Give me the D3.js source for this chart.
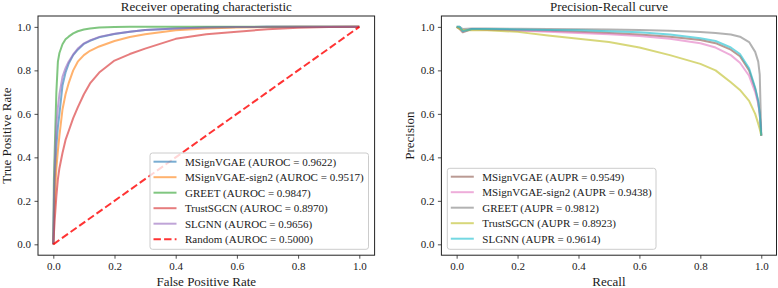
<!DOCTYPE html>
<html><head><meta charset="utf-8">
<script src="https://cdn.jsdelivr.net/npm/d3@7"></script>
<style>
html,body{margin:0;padding:0;background:#fff;}
svg text{font-family:"Liberation Serif","Times New Roman",serif;fill:#1a1a1a;}
</style></head>
<body><svg id="c" width="778" height="288"></svg>
<script>
// ---------- ROC data ----------
const rocFPR = [0, 0.002, 0.005, 0.01, 0.015, 0.02, 0.03, 0.04, 0.05, 0.065, 0.08, 0.1, 0.12, 0.15, 0.2, 0.25, 0.3, 0.4, 0.5, 0.6, 0.7, 0.8, 0.9, 1.0];
const rocMSignVGAE = [0, 0.15, 0.3, 0.45, 0.54, 0.6, 0.73, 0.79, 0.83, 0.87, 0.895, 0.922, 0.936, 0.952, 0.967, 0.978, 0.986, 0.993, 0.997, 0.999, 1, 1, 1, 1];
const rocSign2     = [0, 0.1, 0.22, 0.35, 0.43, 0.5, 0.62, 0.69, 0.74, 0.8, 0.84, 0.87, 0.89, 0.91, 0.935, 0.953, 0.966, 0.985, 0.993, 0.997, 0.999, 1, 1, 1];
const rocGREET     = [0, 0.3, 0.45, 0.7, 0.84, 0.88, 0.92, 0.943, 0.955, 0.97, 0.98, 0.988, 0.993, 0.997, 0.999, 1, 1, 1, 1, 1, 1, 1, 1, 1];
const rocTrustSGCN = [0, 0.05, 0.12, 0.22, 0.3, 0.35, 0.42, 0.48, 0.52, 0.58, 0.63, 0.69, 0.74, 0.79, 0.845, 0.875, 0.9, 0.945, 0.966, 0.978, 0.989, 0.996, 0.999, 1];
const rocSLGNN     = [0, 0.2, 0.38, 0.55, 0.63, 0.69, 0.77, 0.81, 0.84, 0.873, 0.9, 0.924, 0.938, 0.954, 0.968, 0.978, 0.986, 0.993, 0.997, 0.999, 1, 1, 1, 1];
const randomX = [0, 1];
const randomY = [0, 1];
const rocNames = ["MSignVGAE (AUROC = 0.9622)", "MSignVGAE-sign2 (AUROC = 0.9517)", "GREET (AUROC = 0.9847)", "TrustSGCN (AUROC = 0.8970)", "SLGNN (AUROC = 0.9656)", "Random (AUROC = 0.5000)"];

// ---------- PR data ----------
const prRecall = [0, 0.01, 0.02, 0.05, 0.1, 0.2, 0.3, 0.4, 0.5, 0.6, 0.7, 0.8, 0.85, 0.9, 0.93, 0.96, 0.98, 0.99, 0.995, 1.0];
const prMSignVGAE = [1, 0.99, 0.975, 0.99, 0.988, 0.985, 0.982, 0.978, 0.972, 0.965, 0.955, 0.94, 0.925, 0.895, 0.865, 0.80, 0.715, 0.655, 0.6, 0.5];
const prSign2     = [1, 0.995, 0.98, 0.99, 0.987, 0.983, 0.978, 0.972, 0.966, 0.958, 0.945, 0.925, 0.905, 0.87, 0.835, 0.775, 0.70, 0.645, 0.6, 0.5];
const prGREET     = [1, 1, 0.99, 0.993, 0.992, 0.991, 0.99, 0.989, 0.988, 0.986, 0.982, 0.976, 0.972, 0.965, 0.955, 0.93, 0.885, 0.84, 0.78, 0.5];
const prTrustSGCN = [1, 0.99, 0.985, 0.985, 0.985, 0.977, 0.96, 0.945, 0.93, 0.905, 0.87, 0.83, 0.80, 0.745, 0.71, 0.66, 0.60, 0.555, 0.53, 0.5];
const prSLGNN     = [1, 1, 0.98, 0.99, 0.99, 0.988, 0.986, 0.984, 0.98, 0.975, 0.965, 0.948, 0.935, 0.905, 0.875, 0.81, 0.72, 0.66, 0.6, 0.5];
const prNames = ["MSignVGAE (AUPR = 0.9549)", "MSignVGAE-sign2 (AUPR = 0.9438)", "GREET (AUPR = 0.9812)", "TrustSGCN (AUPR = 0.8923)", "SLGNN (AUPR = 0.9614)"];

const tickVals = [0, 0.2, 0.4, 0.6, 0.8, 1.0];

const rocColors = ["#1f77b4", "#ff7f0e", "#2ca02c", "#d62728", "#9467bd"];
const prColors  = ["#8c564b", "#e377c2", "#7f7f7f", "#bcbd22", "#17becf"];

const FONT = '"Liberation Serif","Times New Roman",serif';
const svg = d3.select("#c");

function panel(opt) {
  const x = d3.scaleLinear().domain([-0.05, 1.05]).range([opt.x0, opt.x1]);
  const y = d3.scaleLinear().domain([-0.05, 1.05]).range([opt.yb, opt.yt]);
  const g = svg.append("g").attr("font-family", FONT);
  const line = d3.line().x(d => x(d[0])).y(d => y(d[1]));
  opt.series.forEach((s, i) => {
    const pts = opt.xs.map((v, j) => [v, s[j]]);
    g.append("path").attr("d", line(pts)).attr("fill", "none")
      .attr("stroke", opt.colors[i]).attr("stroke-opacity", 0.6).attr("stroke-width", 2)
      .attr("stroke-linejoin", "round");
  });
  if (opt.random) {
    g.append("path").attr("d", line(randomX.map((v, j) => [v, randomY[j]])))
      .attr("fill", "none").attr("stroke", "#ff0000").attr("stroke-opacity", 0.8)
      .attr("stroke-width", 2).attr("stroke-dasharray", "7.4,3.2");
  }
  const xa = g.append("g").attr("transform", `translate(0,${opt.yb})`)
    .call(d3.axisBottom(x).tickValues(tickVals).tickFormat(d3.format(".1f")).tickSizeInner(3.5).tickSizeOuter(0).tickPadding(3.5));
  const ya = g.append("g").attr("transform", `translate(${opt.x0},0)`)
    .call(d3.axisLeft(y).tickValues(tickVals).tickFormat(d3.format(".1f")).tickSizeInner(3.5).tickSizeOuter(0).tickPadding(3.5));
  [xa, ya].forEach(a => {
    a.attr("font-family", FONT).attr("font-size", 11);
    a.select(".domain").remove();
    a.selectAll("line").attr("stroke", "#222").attr("stroke-width", 0.8);
    a.selectAll("text").attr("font-size", 11).attr("fill", "#1a1a1a").attr("font-family", FONT);
  });
  g.append("rect").attr("x", opt.x0).attr("y", opt.yt).attr("width", opt.x1 - opt.x0)
    .attr("height", opt.yb - opt.yt).attr("fill", "none").attr("stroke", "#222").attr("stroke-width", 1);
  g.append("text").attr("x", (opt.x0 + opt.x1) / 2).attr("y", 11).attr("text-anchor", "middle")
    .attr("font-size", 13).text(opt.title);
  g.append("text").attr("x", (opt.x0 + opt.x1) / 2).attr("y", 285.5).attr("text-anchor", "middle")
    .attr("font-size", 13).text(opt.xlabel);
  g.append("text").attr("transform", `translate(${opt.ylx},${(opt.yt + opt.yb) / 2}) rotate(-90)`)
    .attr("text-anchor", "middle").attr("font-size", 13).text(opt.ylabel);
  const L = opt.legend;
  const lg = g.append("g");
  lg.append("rect").attr("x", L.x).attr("y", L.y).attr("width", L.w).attr("height", L.h)
    .attr("rx", 2.5).attr("fill", "#fff").attr("fill-opacity", 0.8).attr("stroke", "#cccccc").attr("stroke-width", 1);
  opt.names.forEach((n, i) => {
    const cy = L.r0 + i * 15.5;
    const isRand = opt.random && i === opt.names.length - 1;
    lg.append("line").attr("x1", L.x + 3.5).attr("x2", L.x + 26.5).attr("y1", cy).attr("y2", cy)
      .attr("stroke", isRand ? "#ff0000" : opt.colors[i]).attr("stroke-opacity", isRand ? 0.8 : 0.6)
      .attr("stroke-width", 2).attr("stroke-dasharray", isRand ? "7.4,3.2" : null);
    lg.append("text").attr("x", L.x + 35).attr("y", cy + 3.8).attr("font-size", 11).text(n);
  });
}

panel({
  x0: 38, x1: 374.6, yt: 16, yb: 255.2, ylx: 10.5,
  xs: rocFPR, series: [rocMSignVGAE, rocSign2, rocGREET, rocTrustSGCN, rocSLGNN],
  colors: rocColors, random: true, names: rocNames,
  title: "Receiver operating characteristic", xlabel: "False Positive Rate", ylabel: "True Positive Rate",
  legend: {x: 150, y: 153, w: 218.5, h: 96.3, r0: 161.7}
});
panel({
  x0: 441.4, x1: 776.5, yt: 16, yb: 255.2, ylx: 413.5,
  xs: prRecall, series: [prMSignVGAE, prSign2, prGREET, prTrustSGCN, prSLGNN],
  colors: prColors, random: false, names: prNames,
  title: "Precision-Recall curve", xlabel: "Recall", ylabel: "Precision",
  legend: {x: 447.3, y: 168.3, w: 208.7, h: 81, r0: 176.7}
});
</script></body></html>
